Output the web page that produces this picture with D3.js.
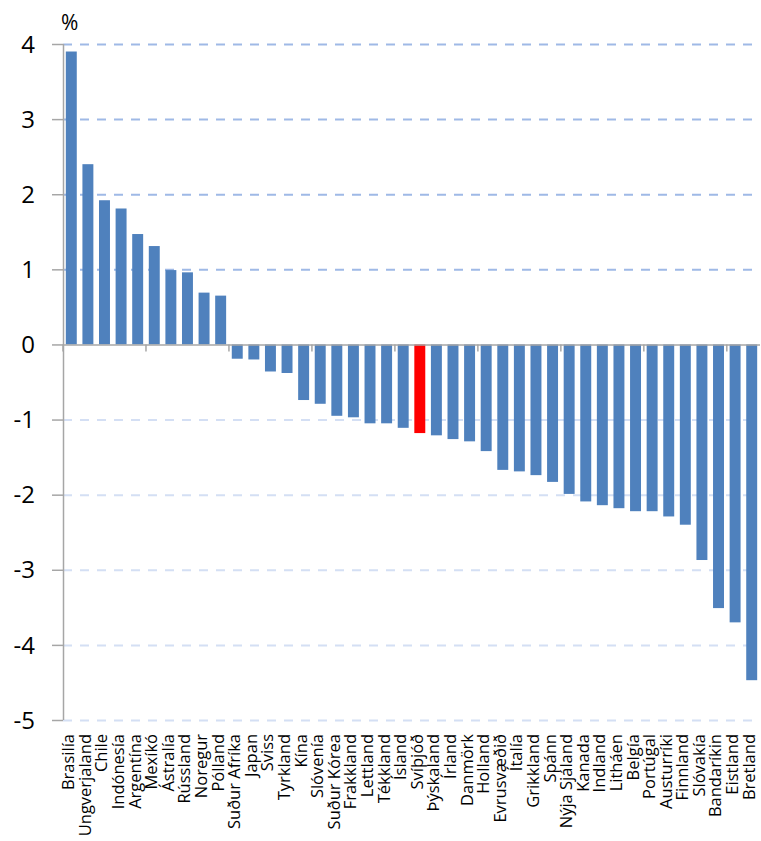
<!DOCTYPE html>
<html>
<head>
<meta charset="utf-8">
<script src="https://cdn.jsdelivr.net/npm/d3@7"></script>
<style>
  html, body { margin: 0; padding: 0; background: #fff; }
  svg { display: block; }
</style>
</head>
<body>
<svg id="chart" width="761" height="841"></svg>
<script>
// Country names, in the order the bars are drawn
const categories = [
  "Brasilía", "Ungverjaland", "Chile", "Indónesía", "Argentína", "Mexíkó",
  "Ástralía", "Rússland", "Noregur", "Pólland", "Suður Afríka", "Japan",
  "Sviss", "Tyrkland", "Kína", "Slóvenía", "Suður Kórea", "Frakkland",
  "Lettland", "Tékkland", "Ísland", "Svíþjóð", "Þýskaland", "Írland",
  "Danmörk", "Holland", "Evrusvæðið", "Ítalía", "Grikkland", "Spánn",
  "Nýja Sjáland", "Kanada", "Indland", "Litháen", "Belgía", "Portúgal",
  "Austurríki", "Finnland", "Slóvakía", "Bandaríkin", "Eistland", "Bretland"
];

// Change in percent
const values = [
  3.90, 2.40, 1.92, 1.81, 1.47, 1.31,
  0.99, 0.96, 0.69, 0.65, -0.19, -0.20,
  -0.36, -0.38, -0.74, -0.79, -0.95, -0.97,
  -1.05, -1.05, -1.11, -1.18, -1.21, -1.26,
  -1.29, -1.42, -1.67, -1.69, -1.74, -1.83,
  -1.99, -2.09, -2.14, -2.18, -2.22, -2.22,
  -2.29, -2.40, -2.87, -3.51, -3.70, -4.47
];

const highlighted = ["Svíþjóð"];

const yTicks = [4, 3, 2, 1, 0, -1, -2, -3, -4, -5];
const unitLabel = "%";

const data = categories.map((c, i) => ({ name: c, value: values[i] }));

const svg = d3.select("#chart");
const plotLeft = 63, plotRight = 760, plotTop = 44, plotBottom = 720;

const x = d3.scaleBand()
  .domain(categories)
  .range([plotLeft, plotRight])
  .paddingInner(0.34)
  .paddingOuter(0.17);

const y = d3.scaleLinear()
  .domain([-5, 4])
  .range([plotBottom, plotTop]);

const axisColor = "#a6a6a6";

// Horizontal dashed gridlines
svg.append("g")
  .selectAll("line")
  .data(yTicks.filter(t => t !== 0))
  .join("line")
  .attr("x1", plotLeft)
  .attr("x2", plotRight)
  .attr("y1", d => y(d) + 0.5)
  .attr("y2", d => y(d) + 0.5)
  .attr("stroke", d => d > 0 ? "#9fb9e6" : "#d4dff4")
  .attr("stroke-width", 2)
  .attr("stroke-dasharray", "9,8");

// Bars
svg.append("g")
  .selectAll("rect")
  .data(data)
  .join("rect")
  .attr("x", d => x(d.name))
  .attr("width", x.bandwidth())
  .attr("y", d => y(Math.max(0, d.value)))
  .attr("height", d => Math.abs(y(d.value) - y(0)))
  .attr("fill", d => highlighted.includes(d.name) ? "#ff0000" : "#4f81bd");

// Vertical axis with tick marks
const yAxis = svg.append("g");
yAxis.append("line")
  .attr("x1", plotLeft + 0.5).attr("x2", plotLeft + 0.5)
  .attr("y1", plotTop).attr("y2", plotBottom)
  .attr("stroke", axisColor).attr("stroke-width", 1.5);
yAxis.selectAll("line.tick")
  .data(yTicks)
  .join("line")
  .attr("class", "tick")
  .attr("x1", plotLeft - 11).attr("x2", plotLeft)
  .attr("y1", d => y(d) + 0.5).attr("y2", d => y(d) + 0.5)
  .attr("stroke", axisColor).attr("stroke-width", 1.5);
yAxis.selectAll("text")
  .data(yTicks)
  .join("text")
  .attr("x", 35)
  .attr("y", d => y(d))
  .attr("dy", "0.36em")
  .attr("text-anchor", "end")
  .attr("font-family", "'Open Sans', sans-serif")
  .attr("font-size", 24)
  .attr("fill", "#000")
  .text(d => d);

// Unit label above the axis
svg.append("text")
  .attr("x", 61)
  .attr("y", 30)
  .attr("font-family", "'Open Sans', sans-serif")
  .attr("font-size", 21)
  .attr("fill", "#000")
  .text(unitLabel);

// Zero line with a tick every five categories
const xAxis = svg.append("g");
xAxis.append("line")
  .attr("x1", plotLeft).attr("x2", plotRight)
  .attr("y1", y(0) + 0.5).attr("y2", y(0) + 0.5)
  .attr("stroke", axisColor).attr("stroke-width", 1.5);
const boundary = i => plotLeft + i * x.step();
const xTickIdx = d3.range(0, categories.length + 1, 5);
xAxis.selectAll("line.tick")
  .data(xTickIdx)
  .join("line")
  .attr("class", "tick")
  .attr("x1", d => boundary(d)).attr("x2", d => boundary(d))
  .attr("y1", y(0)).attr("y2", y(0) + 7)
  .attr("stroke", axisColor).attr("stroke-width", 1.5);

// Rotated category labels under the plot
svg.append("g")
  .selectAll("text")
  .data(categories)
  .join("text")
  .attr("transform", d => `translate(${x(d) + x.bandwidth() / 2},734) rotate(-90)`)
  .attr("dy", "0.18em")
  .attr("text-anchor", "end")
  .attr("font-family", "'Open Sans', sans-serif")
  .attr("font-size", 16.5)
  .attr("fill", "#000")
  .text(d => d);
</script>
</body>
</html>
